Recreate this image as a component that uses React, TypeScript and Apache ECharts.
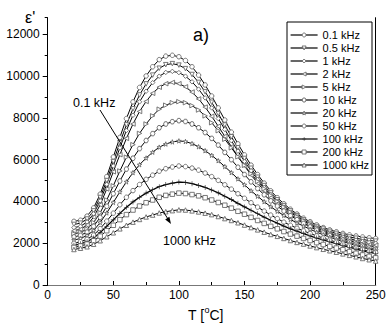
import React, { useEffect, useRef } from "react";
import * as echarts from "echarts";

const temps = [20,25,30,35,40,45,50,55,60,65,70,75,80,85,90,95,100,105,110,115,120,125,130,135,140,145,150,155,160,165,170,175,180,185,190,195,200,205,210,215,220,225,230,235,240,245,250];

const freqLabels = ["0.1 kHz","0.5 kHz","1 kHz","2 kHz","5 kHz","10 kHz","20 kHz","50 kHz","100 kHz","200 kHz","1000 kHz"];

const eps01 = [3050,3100,3300,3690,4350,5190,6130,7070,7970,8770,9460,10010,10450,10790,10960,11000,10930,10750,10450,10050,9580,9050,8480,7900,7320,6760,6230,5740,5290,4880,4510,4180,3890,3630,3400,3200,3030,2880,2750,2640,2550,2470,2400,2350,2300,2260,2230];
const eps05 = [2900,2960,3160,3550,4190,5000,5910,6810,7670,8440,9100,9630,10050,10380,10550,10600,10530,10360,10080,9700,9250,8750,8210,7660,7100,6570,6060,5590,5160,4760,4410,4080,3800,3550,3320,3120,2950,2800,2680,2570,2470,2380,2300,2240,2180,2130,2100];
const eps1 = [2750,2810,3020,3410,4030,4820,5700,6570,7400,8130,8770,9280,9690,10000,10180,10230,10170,10000,9730,9380,8960,8480,7970,7450,6910,6410,5920,5470,5050,4670,4330,4010,3730,3490,3270,3070,2890,2740,2610,2490,2390,2300,2210,2150,2080,2030,2000];
const eps2 = [2600,2670,2870,3250,3840,4600,5420,6240,7020,7710,8310,8790,9180,9470,9640,9700,9640,9490,9240,8910,8520,8080,7600,7120,6620,6150,5700,5270,4880,4520,4190,3890,3630,3390,3180,2990,2810,2670,2530,2420,2310,2210,2130,2060,1990,1930,1900];
const eps5 = [2450,2520,2680,2990,3460,4070,4750,5460,6120,6720,7260,7710,8100,8420,8610,8730,8780,8730,8590,8380,8100,7770,7390,6980,6570,6140,5730,5330,4960,4610,4290,4000,3730,3490,3270,3080,2900,2730,2590,2460,2340,2230,2130,2040,1950,1870,1800];
const eps10 = [2300,2380,2530,2810,3240,3770,4370,4980,5550,6070,6530,6920,7250,7530,7710,7820,7870,7830,7710,7530,7300,7020,6700,6350,6000,5640,5290,4940,4620,4320,4030,3780,3540,3320,3130,2950,2780,2630,2490,2370,2260,2150,2050,1950,1860,1770,1700];
const eps20 = [2150,2230,2370,2610,2990,3450,3950,4460,4940,5380,5760,6080,6360,6600,6750,6850,6900,6870,6770,6620,6430,6210,5950,5670,5380,5080,4800,4510,4250,3990,3750,3530,3330,3140,2970,2820,2670,2530,2410,2290,2190,2080,1990,1890,1800,1720,1650];
const eps50 = [2000,2070,2190,2390,2700,3060,3440,3840,4200,4520,4810,5060,5260,5450,5570,5650,5700,5670,5600,5500,5360,5190,5010,4800,4590,4370,4150,3940,3730,3540,3350,3180,3010,2860,2720,2590,2470,2350,2250,2150,2050,1960,1870,1780,1690,1620,1550];
const eps100 = [1900,1970,2080,2250,2510,2810,3120,3430,3720,3980,4200,4400,4560,4710,4810,4880,4930,4910,4850,4770,4670,4550,4410,4250,4090,3910,3740,3580,3410,3250,3100,2960,2820,2690,2580,2460,2350,2250,2160,2070,1980,1890,1810,1720,1640,1570,1500];
const eps200 = [1800,1870,1960,2120,2340,2600,2860,3130,3370,3590,3780,3940,4070,4200,4290,4350,4400,4380,4330,4270,4180,4070,3950,3820,3680,3530,3390,3240,3090,2950,2810,2690,2560,2440,2340,2230,2130,2030,1940,1850,1770,1690,1600,1520,1440,1370,1300];
const eps1000 = [1700,1760,1830,1950,2120,2310,2500,2690,2860,3010,3140,3260,3350,3450,3510,3560,3600,3590,3550,3500,3440,3370,3280,3180,3090,2980,2870,2750,2640,2530,2420,2330,2230,2130,2040,1960,1870,1790,1710,1640,1570,1490,1420,1350,1270,1210,1150];

const seriesValues = [eps01, eps05, eps1, eps2, eps5, eps10, eps20, eps50, eps100, eps200, eps1000];

const xTicks = [0, 50, 100, 150, 200, 250];
const yTicks = [0, 2000, 4000, 6000, 8000, 10000, 12000];

const FONT = "'Liberation Sans', Arial, sans-serif";

const STAR = "path://M50,0 L61,35 L98,35 L68,57 L79,91 L50,70 L21,91 L32,57 L2,35 L39,35 Z";
const HEX = "path://M25,0 L75,0 L100,50 L75,100 L25,100 L0,50 Z";
const PLUS = "path://M44,0 H56 V44 H100 V56 H56 V100 H44 V56 H0 V44 H44 Z";

const symbols: Array<{ symbol: string; rotate?: number }> = [
  { symbol: "circle" },
  { symbol: "triangle", rotate: 180 },
  { symbol: "diamond" },
  { symbol: "triangle", rotate: 90 },
  { symbol: "triangle", rotate: -90 },
  { symbol: HEX },
  { symbol: STAR },
  { symbol: "circle" },
  { symbol: PLUS },
  { symbol: "rect" },
  { symbol: "triangle" },
];

const openMarker = { color: "#fff", borderColor: "#6a6a6a", borderWidth: 0.9 };
const plusMarker = { color: "#222", borderWidth: 0 };

export default function App() {
  const ref = useRef<HTMLDivElement>(null);
  useEffect(() => {
    if (!ref.current) return;
    const chart = echarts.init(ref.current, null, { renderer: "svg" });

    const series = freqLabels.map((name, i) => {
      const isPlus = i === 8;
      return {
        name,
        type: "line",
        xAxisIndex: 0,
        yAxisIndex: 0,
        data: temps.map((t, j) => [t, seriesValues[i][j]]),
        symbol: symbols[i].symbol,
        symbolRotate: symbols[i].rotate || 0,
        symbolSize: isPlus ? 5 : 4.5,
        showSymbol: true,
        lineStyle: { color: "#000", width: isPlus ? 1.3 : 1 },
        itemStyle: isPlus ? plusMarker : openMarker,
        emphasis: { disabled: true },
        z: 2,
      };
    });

    const option: any = {
      animation: false,
      backgroundColor: "#fff",
      textStyle: { fontFamily: FONT },
      grid: { left: 47.7, right: 16.3, top: 17.7, bottom: 47, show: false },
      legend: {
        data: freqLabels.map((name, i) => ({
          name,
          itemStyle: i === 8 ? plusMarker : openMarker,
        })),
        orient: "vertical",
        left: 290,
        top: 28.5,
        padding: 0,
        itemWidth: 27,
        itemHeight: 5,
        itemGap: 0,
        z: 20,
        selectedMode: false,
        lineStyle: { color: "#000", width: 1.2 },
        textStyle: { fontSize: 11, lineHeight: 13, color: "#000", fontFamily: FONT },
      },
      xAxis: [
        {
          type: "value",
          min: 0,
          max: 250,
          interval: 50,
          position: "bottom",
          axisLine: { show: true, lineStyle: { color: "#000", width: 1 } },
          axisTick: { show: true, inside: true, length: 4, lineStyle: { color: "#000" } },
          minorTick: { show: true, splitNumber: 2, length: 3, lineStyle: { color: "#000" } },
          splitLine: { show: false },
          axisLabel: {
            fontSize: 12,
            color: "#000",
            margin: 4,
            fontFamily: FONT,
            formatter: (v: number) => (xTicks.includes(v) ? String(v) : ""),
          },
        },
        {
          type: "value",
          min: 0,
          max: 250,
          position: "top",
          axisLine: { show: true, lineStyle: { color: "#777", width: 1 } },
          axisTick: { show: false },
          axisLabel: { show: false },
          splitLine: { show: false },
        },
      ],
      yAxis: [
        {
          type: "value",
          min: 0,
          max: 12800,
          interval: 2000,
          position: "left",
          axisLine: { show: true, lineStyle: { color: "#000", width: 1 } },
          axisTick: { show: true, inside: false, length: 5, lineStyle: { color: "#000" } },
          splitLine: { show: false },
          axisLabel: {
            fontSize: 12,
            color: "#000",
            margin: 8,
            fontFamily: FONT,
            showMaxLabel: false,
            formatter: (v: number) => (yTicks.includes(v) ? String(v) : ""),
          },
        },
        {
          type: "value",
          min: 0,
          max: 12800,
          interval: 1000,
          position: "left",
          axisLine: { show: false },
          axisTick: { show: true, inside: false, length: 3, lineStyle: { color: "#000" } },
          axisLabel: { show: false },
          splitLine: { show: false },
        },
        {
          type: "value",
          min: 0,
          max: 12800,
          position: "right",
          axisLine: { show: true, lineStyle: { color: "#000", width: 1 } },
          axisTick: { show: false },
          axisLabel: { show: false },
          splitLine: { show: false },
        },
      ],
      graphic: [
        {
          type: "rect",
          shape: { x: 287, y: 22, width: 85, height: 153 },
          style: { fill: "#fff", stroke: "#000", lineWidth: 1 },
          z: 3,
          silent: true,
        },
        {
          type: "text",
          x: 25,
          y: 17,
          style: { text: "ε'", fontSize: 16, fontFamily: FONT, fill: "#000", align: "left", verticalAlign: "middle" },
          z: 100,
        },
        {
          type: "text",
          x: 193,
          y: 35,
          style: { text: "a)", fontSize: 18, fontFamily: FONT, fill: "#000", align: "left", verticalAlign: "middle" },
          z: 100,
        },
        {
          type: "text",
          x: 73,
          y: 102.5,
          style: { text: "0.1 kHz", fontSize: 12.5, fontFamily: FONT, fill: "#000", align: "left", verticalAlign: "middle" },
          z: 100,
        },
        {
          type: "text",
          x: 163,
          y: 241,
          style: { text: "1000 kHz", fontSize: 12.5, fontFamily: FONT, fill: "#000", align: "left", verticalAlign: "middle" },
          z: 100,
        },
        {
          type: "line",
          shape: { x1: 100, y1: 110, x2: 169.5, y2: 221.5 },
          style: { stroke: "#000", lineWidth: 1 },
          z: 100,
        },
        {
          type: "polygon",
          shape: { points: [[171, 224], [165.2, 219.4], [169.4, 216.7]] },
          style: { fill: "#000" },
          z: 100,
        },
        {
          type: "text",
          x: 188,
          y: 315,
          style: { text: "T [", fontSize: 14, fontFamily: FONT, fill: "#000", align: "left", verticalAlign: "middle" },
          z: 100,
        },
        {
          type: "text",
          x: 204.5,
          y: 310,
          style: { text: "o", fontSize: 9, fontFamily: FONT, fill: "#000", align: "left", verticalAlign: "middle" },
          z: 100,
        },
        {
          type: "text",
          x: 209.5,
          y: 315,
          style: { text: "C]", fontSize: 14, fontFamily: FONT, fill: "#000", align: "left", verticalAlign: "middle" },
          z: 100,
        },
      ],
      series,
    };
    chart.setOption(option);
    return () => chart.dispose();
  }, []);

  return (
    <div
      ref={ref}
      style={{ position: "fixed", left: 0, top: 0, width: 392, height: 332, background: "#fff" }}
    />
  );
}
